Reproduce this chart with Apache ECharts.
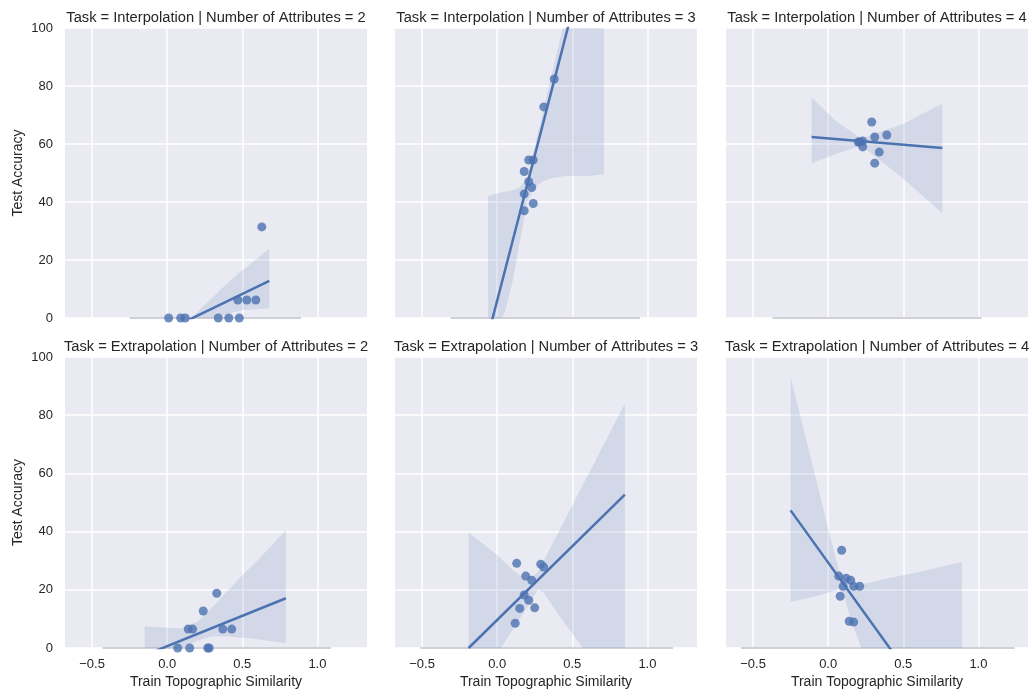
<!DOCTYPE html>
<html>
<head>
<meta charset="utf-8">
<script src="https://cdn.jsdelivr.net/npm/echarts@6/dist/echarts.min.js"></script>
<style>html,body{margin:0;background:#fff}#chart{width:1032px;height:696px}</style>
</head>
<body>
<div id="chart"></div>
<script>
// facet titles, row-major (Interpolation row, then Extrapolation row)
var titles = [
  'Task = Interpolation | Number of Attributes = 2',
  'Task = Interpolation | Number of Attributes = 3',
  'Task = Interpolation | Number of Attributes = 4',
  'Task = Extrapolation | Number of Attributes = 2',
  'Task = Extrapolation | Number of Attributes = 3',
  'Task = Extrapolation | Number of Attributes = 4'
];
var xTicks = [-0.5, 0, 0.5, 1.0];
var yTicks = [0, 20, 40, 60, 80, 100];

// Interpolation, 2 attributes
var interp2Points = [[0.63,31.4],[0.47,6.2],[0.53,6.2],[0.59,6.2],[0.01,0],[0.09,0],[0.12,0],[0.34,0],[0.41,0],[0.48,0]];
var interp2Line = [[-0.05,-5.5],[0.68,12.8]];
var interp2BandX = [-0.05, 0.17, 0.3, 0.4, 0.5, 0.6, 0.68];
var interp2BandHi = [-3, 0.5, 7, 12, 16.5, 20.5, 24];
var interp2BandLo = [-20, -6, 0, 1.5, 2.8, 3, 3.4];
var interp2Strip = [-0.25, 0.89];

// Interpolation, 3 attributes
var interp3Points = [[0.38,82.4],[0.31,72.8],[0.21,54.5],[0.24,54.5],[0.18,50.5],[0.21,47],[0.23,45],[0.18,42.8],[0.24,39.5],[0.18,37]];
var interp3Line = [[-0.06,-6],[0.71,148]];
var interp3BandX = [-0.06, 0.0, 0.05, 0.1, 0.15, 0.2, 0.25, 0.3, 0.35, 0.4, 0.45, 0.5, 0.6, 0.71];
var interp3BandHi = [42, 43, 43.5, 44, 45, 48, 59, 70, 81, 92, 103, 114, 135, 160];
var interp3BandLo = [-40, -3, 2, 12, 26, 40, 45, 47, 48, 48.5, 49, 49, 49, 49.5];
var interp3Strip = [-0.31, 0.95];

// Interpolation, 4 attributes
var interp4Points = [[0.29,67.6],[0.39,63.1],[0.31,62.4],[0.20,60.7],[0.23,61],[0.21,60.7],[0.23,59],[0.34,57.2],[0.31,53.4]];
var interp4Line = [[-0.11,62.4],[0.76,58.6]];
var interp4BandX = [-0.11, 0.05, 0.22, 0.5, 0.76];
var interp4BandHi = [76, 68, 61.8, 67, 74];
var interp4BandLo = [53.4, 56.5, 59.5, 48, 36];
var interp4Strip = [-0.37, 1.02];

// Extrapolation, 2 attributes
var extrap2Points = [[0.33,18.8],[0.24,12.7],[0.14,6.5],[0.17,6.5],[0.37,6.5],[0.43,6.5],[0.07,0],[0.15,0],[0.27,0],[0.28,0]];
var extrap2Line = [[-0.15,-2.5],[0.79,17.1]];
var extrap2BandX = [-0.15, 0.0, 0.1, 0.2, 0.3, 0.4, 0.5, 0.6, 0.79];
var extrap2BandHi = [7.5, 7, 6.8, 9, 14, 19.5, 25, 30, 40.5];
var extrap2BandLo = [-15, -5, 0, 2.5, 4, 4, 3.5, 3, 1.7];
var extrap2Strip = [-0.43, 1.09];

// Extrapolation, 3 attributes
var extrap3Points = [[0.13,29.1],[0.29,28.8],[0.31,27.8],[0.19,24.7],[0.23,23.3],[0.18,18.2],[0.21,16.4],[0.15,13.6],[0.25,13.8],[0.12,8.5]];
var extrap3Line = [[-0.19,0],[0.85,52.7]];
var extrap3BandX = [-0.19, 0.0, 0.1, 0.15, 0.2, 0.27, 0.31, 0.4, 0.5, 0.57, 0.7, 0.85];
var extrap3BandHi = [39.7, 32, 27, 25, 23, 26, 30, 39, 49, 56, 69, 84];
var extrap3BandLo = [-20, -2, 6, 10, 14, 20, 19, 12, 5, 0, -9, -20];
var extrap3Strip = [-0.51, 1.17];

// Extrapolation, 4 attributes
var extrap4Points = [[0.09,33.6],[0.07,24.7],[0.12,24],[0.15,23.3],[0.10,21.2],[0.17,21.2],[0.21,21.2],[0.08,17.8],[0.14,9.2],[0.17,8.9]];
var extrap4Line = [[-0.25,47.3],[0.89,-34.5]];
var extrap4BandX = [-0.25, -0.1, 0.0, 0.07, 0.1, 0.15, 0.22, 0.4, 0.6, 0.8, 0.89];
var extrap4BandHi = [93, 62, 41, 27, 24.5, 22.5, 21.8, 24, 26, 28.5, 29.5];
var extrap4BandLo = [15.8, 17.5, 19, 20, 19, 10, 0, -25, -50, -75, -85];
var extrap4Strip = [-0.58, 1.24];

var panels = [
  { pts: interp2Points, line: interp2Line, bx: interp2BandX, hi: interp2BandHi, lo: interp2BandLo, strip: interp2Strip },
  { pts: interp3Points, line: interp3Line, bx: interp3BandX, hi: interp3BandHi, lo: interp3BandLo, strip: interp3Strip },
  { pts: interp4Points, line: interp4Line, bx: interp4BandX, hi: interp4BandHi, lo: interp4BandLo, strip: interp4Strip },
  { pts: extrap2Points, line: extrap2Line, bx: extrap2BandX, hi: extrap2BandHi, lo: extrap2BandLo, strip: extrap2Strip },
  { pts: extrap3Points, line: extrap3Line, bx: extrap3BandX, hi: extrap3BandHi, lo: extrap3BandLo, strip: extrap3Strip },
  { pts: extrap4Points, line: extrap4Line, bx: extrap4BandX, hi: extrap4BandHi, lo: extrap4BandLo, strip: extrap4Strip }
];

var FONT = "'Liberation Sans', Arial, sans-serif";
var TXT = '#262626';
var BLUE = '#4C72B0';
var colLeft = [65, 395, 726];
var rowTop = [28, 357];
var rowH = [290, 291];
var W = 302;

var chart = echarts.init(document.getElementById('chart'));
var grid = [], xAxis = [], yAxis = [], title = [], series = [];

panels.forEach(function (p, i) {
  var r = Math.floor(i / 3), c = i % 3;
  grid.push({ left: colLeft[c], top: rowTop[r], width: W, height: rowH[r], show: true, backgroundColor: '#EAEAF2', borderWidth: 0 });
  title.push({
    text: titles[i], left: colLeft[c] + W / 2 - 5, top: rowTop[r] - 23, textAlign: 'center',
    textStyle: { fontFamily: FONT, fontSize: 14.7, fontWeight: 'normal', color: TXT }
  });
  xAxis.push({
    type: 'value', gridIndex: i, min: -0.68, max: 1.33,
    axisLine: { show: false },
    axisTick: { show: false, customValues: xTicks },
    axisLabel: {
      show: r === 1, customValues: xTicks, margin: 10, fontFamily: FONT, fontSize: 13, color: TXT,
      formatter: function (v) { return v.toFixed(1).replace('-', '\u2212'); }
    },
    splitLine: { show: true, lineStyle: { color: '#fff', width: 1.5 } },
    name: r === 1 ? 'Train Topographic Similarity' : '',
    nameLocation: 'middle', nameGap: 27,
    nameTextStyle: { fontFamily: FONT, fontSize: 14, color: TXT }
  });
  yAxis.push({
    type: 'value', gridIndex: i, min: 0, max: 100, interval: 20,
    axisLine: { show: false }, axisTick: { show: false },
    axisLabel: { show: c === 0, margin: 12, fontFamily: FONT, fontSize: 13, color: TXT },
    splitLine: { show: true, lineStyle: { color: '#fff', width: 1.5 } },
    name: c === 0 ? 'Test Accuracy' : '',
    nameLocation: 'middle', nameGap: 40,
    nameTextStyle: { fontFamily: FONT, fontSize: 14, color: TXT }
  });

  // thin strip along the bottom edge
  series.push({
    type: 'line', xAxisIndex: i, yAxisIndex: i, clip: false, silent: true, showSymbol: false,
    data: [[p.strip[0], 0], [p.strip[1], 0]],
    lineStyle: { color: '#cfd0d8', width: 2 }, z: 1
  });
  // confidence band
  series.push({
    type: 'custom', xAxisIndex: i, yAxisIndex: i, clip: true, silent: true,
    data: [[p.bx[0], p.lo[0]]], z: 2,
    renderItem: function (params, api) {
      var pts = [];
      for (var k = 0; k < p.bx.length; k++) pts.push(api.coord([p.bx[k], p.hi[k]]));
      for (var k2 = p.bx.length - 1; k2 >= 0; k2--) pts.push(api.coord([p.bx[k2], p.lo[k2]]));
      return { type: 'polygon', shape: { points: pts }, style: { fill: 'rgba(76,114,176,0.15)' } };
    }
  });
  // scatter points
  series.push({
    type: 'scatter', xAxisIndex: i, yAxisIndex: i, data: p.pts, symbolSize: 9,
    itemStyle: { color: BLUE, opacity: 0.8 }, z: 3
  });
  // regression line
  series.push({
    type: 'line', xAxisIndex: i, yAxisIndex: i, data: p.line, showSymbol: false, clip: true,
    lineStyle: { color: BLUE, width: 2.5 }, z: 4
  });
});

chart.setOption({
  animation: false,
  backgroundColor: '#fff',
  title: title, grid: grid, xAxis: xAxis, yAxis: yAxis, series: series
});
</script>
</body>
</html>
